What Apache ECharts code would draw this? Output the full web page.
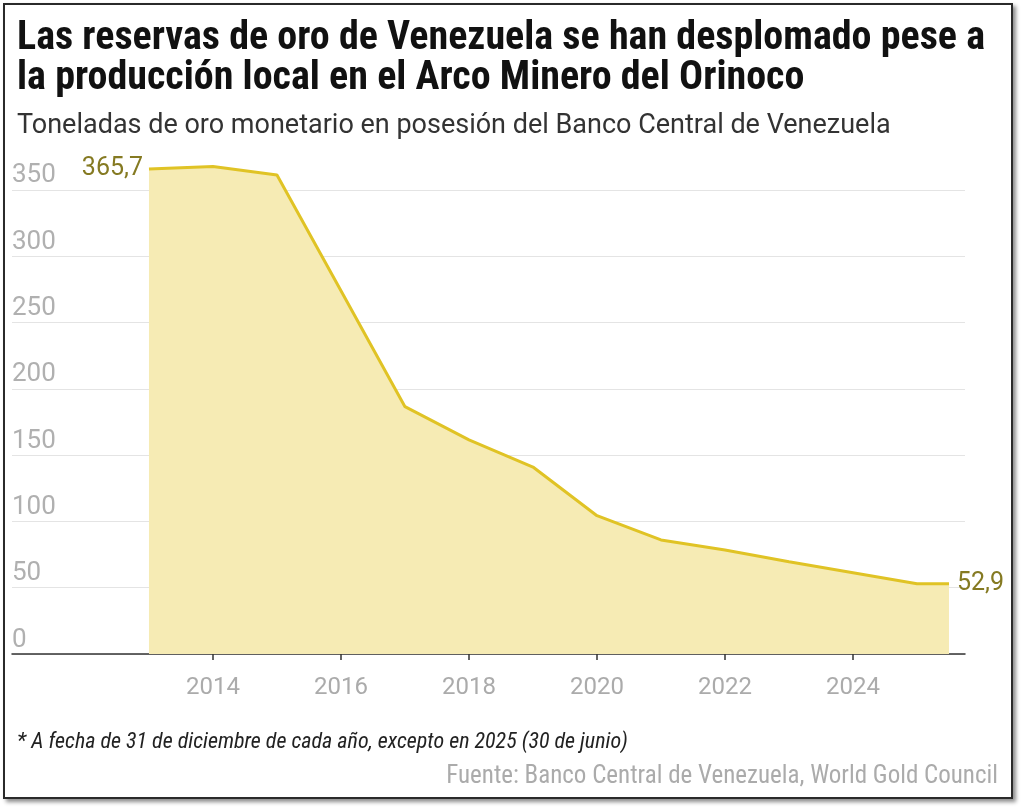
<!DOCTYPE html>
<html>
<head>
<meta charset="utf-8">
<script src="https://cdn.jsdelivr.net/npm/echarts@6/dist/echarts.min.js"></script>
<style>
  html, body { margin: 0; padding: 0; background: #ffffff; }
  #frame { position: absolute; left: 3px; top: 3px; width: 1006px; height: 792px;
           border: 2px solid #2a2a2a; box-shadow: 3px 3px 4px rgba(0,0,0,0.45); background: #fff; }
  #chart { position: absolute; left: 0; top: 0; width: 1024px; height: 808px; }
</style>
</head>
<body>
<div id="frame"></div>
<div id="chart"></div>
<script>
// Data (x = position in years; last point = 30 June 2025)
const years = [2013, 2014, 2015, 2016, 2017, 2018, 2019, 2020, 2021, 2022, 2023, 2024, 2025, 2025.5];
const tonnes = [365.7, 367.6, 361.2, 274, 186.5, 161.5, 141, 104.3, 86, 78.4, 69.6, 61.3, 53.0, 52.9];
const xTickLabels = [2014, 2016, 2018, 2020, 2022, 2024];
const yTicks = [0, 50, 100, 150, 200, 250, 300, 350];

const titleText = 'Las reservas de oro de Venezuela se han desplomado pese a\nla producción local en el Arco Minero del Orinoco';
const subtitleText = 'Toneladas de oro monetario en posesión del Banco Central de Venezuela';
const noteText = '* A fecha de 31 de diciembre de cada año, excepto en 2025 (30 de junio)';
const sourceText = 'Fuente: Banco Central de Venezuela, World Gold Council';

const fmt = v => v.toFixed(1).replace('.', ',');
const lastIdx = years.length - 1;

const seriesData = years.map((x, i) => {
  const item = { value: [x, tonnes[i]] };
  if (i === 0) {
    item.label = { show: true, position: 'left', distance: 6, formatter: fmt(tonnes[i]) };
  } else if (i === lastIdx) {
    item.label = { show: true, position: 'right', distance: 8, formatter: fmt(tonnes[i]) };
  }
  return item;
});

const chart = echarts.init(document.getElementById('chart'), null, { renderer: 'canvas' });
const condensed = '"Liberation Sans Narrow", "Roboto Condensed", "Arial Narrow", Roboto, sans-serif';

chart.setOption({
  backgroundColor: 'transparent',
  animation: false,
  title: [
    { text: titleText, left: 12, top: 14,
      textStyle: { fontFamily: condensed, fontWeight: 'bold', fontSize: 40, lineHeight: 40, color: '#111' } },
    { text: subtitleText, left: 12, top: 108,
      textStyle: { fontFamily: 'Roboto, sans-serif', fontWeight: 'normal', fontSize: 27, color: '#333' } },
    { text: noteText, left: 12, top: 726,
      textStyle: { fontFamily: condensed, fontStyle: 'italic', fontWeight: 'normal', fontSize: 22, color: '#222' } },
    { text: sourceText, right: 21, top: 759,
      textStyle: { fontFamily: condensed, fontWeight: 'normal', fontSize: 25, color: '#ababab' } }
  ],
  grid: { left: 12, right: 59, top: 123.6, bottom: 154, containLabel: false },
  xAxis: {
    type: 'value',
    min: 2010.86,
    max: 2025.75,
    splitLine: { show: false },
    axisLine: { show: true, lineStyle: { color: '#333', width: 1.5 } },
    axisTick: { show: true, customValues: xTickLabels, length: 6, lineStyle: { color: '#333', width: 1.5 } },
    axisLabel: { customValues: xTickLabels, color: '#ababab', fontSize: 24, margin: 22,
                 fontFamily: 'Roboto, sans-serif', formatter: v => String(v) }
  },
  yAxis: {
    type: 'value',
    min: 0,
    max: 400,
    interval: 50,
    axisLine: { show: false },
    axisTick: { show: false },
    splitLine: { show: true, lineStyle: { color: ['#e4e4e4', '#e4e4e4', '#e4e4e4', '#e4e4e4', '#e4e4e4', '#e4e4e4', '#e4e4e4', '#e4e4e4', 'transparent'], width: 1.2 } },
    axisLabel: {
      color: '#b0b0b0', fontSize: 26, fontFamily: 'Roboto, sans-serif',
      align: 'left', verticalAlign: 'bottom', margin: 0, padding: [0, 0, 1, 0],
      formatter: v => (yTicks.indexOf(v) >= 0 ? String(v) : '')
    }
  },
  series: [{
    type: 'line',
    data: seriesData,
    showSymbol: true,
    symbol: 'circle',
    symbolSize: 0,
    lineStyle: { color: '#e0c325', width: 3 },
    areaStyle: { color: '#f6ebb4', opacity: 1 },
    label: { color: '#857a22', fontSize: 25, fontFamily: 'Roboto, sans-serif' },
    emphasis: { disabled: true },
    z: 3
  }]
});
</script>
</body>
</html>
